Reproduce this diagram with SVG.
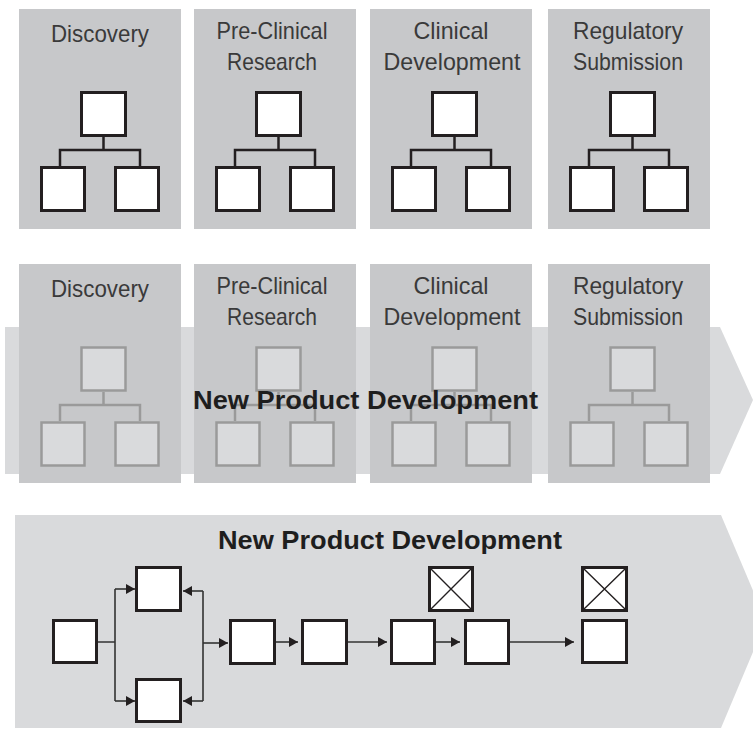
<svg xmlns="http://www.w3.org/2000/svg" width="753" height="729" viewBox="0 0 753 729">
<style>
.panel{fill:#c7c8ca}
.band{fill:#d9dadc}
.lbl{font-family:"Liberation Sans",Arial,sans-serif;font-size:24px;fill:#3a3a3a;text-anchor:middle}
.title{font-family:"Liberation Sans",Arial,sans-serif;font-size:25px;font-weight:bold;fill:#1e1e1e;text-anchor:middle}
.box{fill:#fff;stroke:#231f20;stroke-width:3}
.gbox{fill:#d9dadc;stroke:#9a9a9a;stroke-width:2.5}
.con{fill:none;stroke:#231f20;stroke-width:2.5}
.gcon{fill:none;stroke:#9a9a9a;stroke-width:2.5}
.arr{fill:none;stroke:#333;stroke-width:1.6}
.x{stroke:#231f20;stroke-width:1.4}
</style>
<defs>
<marker id="ah" markerUnits="userSpaceOnUse" markerWidth="9" markerHeight="10" refX="9" refY="5" orient="auto">
<path d="M0,0 L9,5 L0,10 z" fill="#231f20"/>
</marker>
</defs>

<!-- Row 1 -->
<g id="row1-discovery">
<rect class="panel" x="19" y="9" width="162" height="220"/>
<text class="lbl" x="100" y="42" textLength="98" lengthAdjust="spacingAndGlyphs">Discovery</text>
<rect class="box" x="81.5" y="92.5" width="44" height="43"/>
<rect class="box" x="41.5" y="167.5" width="43" height="43"/>
<rect class="box" x="115.5" y="167.5" width="43" height="43"/>
</g>
<g id="row1-preclinical">
<rect class="panel" x="194" y="9" width="162" height="220"/>
<text class="lbl" x="272" y="39" textLength="111" lengthAdjust="spacingAndGlyphs">Pre-Clinical</text>
<text class="lbl" x="272" y="70" textLength="90" lengthAdjust="spacingAndGlyphs">Research</text>
<rect class="box" x="256.5" y="92.5" width="44" height="43"/>
<rect class="box" x="216.5" y="167.5" width="43" height="43"/>
<rect class="box" x="290.5" y="167.5" width="43" height="43"/>
</g>
<g id="row1-clinical">
<rect class="panel" x="370" y="9" width="162" height="220"/>
<text class="lbl" x="451" y="39" textLength="75" lengthAdjust="spacingAndGlyphs">Clinical</text>
<text class="lbl" x="452" y="70" textLength="137" lengthAdjust="spacingAndGlyphs">Development</text>
<rect class="box" x="432.5" y="92.5" width="44" height="43"/>
<rect class="box" x="392.5" y="167.5" width="43" height="43"/>
<rect class="box" x="466.5" y="167.5" width="43" height="43"/>
</g>
<g id="row1-regulatory">
<rect class="panel" x="548" y="9" width="162" height="220"/>
<text class="lbl" x="628" y="39" textLength="110" lengthAdjust="spacingAndGlyphs">Regulatory</text>
<text class="lbl" x="628" y="70" textLength="110" lengthAdjust="spacingAndGlyphs">Submission</text>
<rect class="box" x="610.5" y="92.5" width="44" height="43"/>
<rect class="box" x="570.5" y="167.5" width="43" height="43"/>
<rect class="box" x="644.5" y="167.5" width="43" height="43"/>
</g>
<g id="row1-connectors">
<path class="con" d="M103.5,137 V150 M60,166 V150 H140 V166"/>
<path class="con" d="M278.5,137 V150 M235,166 V150 H315 V166"/>
<path class="con" d="M454.5,137 V150 M411,166 V150 H491 V166"/>
<path class="con" d="M632.5,137 V150 M589,166 V150 H669 V166"/>
</g>

<!-- Row 2 -->
<g id="row2-band">
<polygon class="band" points="5,327 720,327 753,400 720,474 5,474"/>
</g>
<g id="row2-discovery">
<rect class="panel" x="19" y="264" width="162" height="219"/>
<text class="lbl" x="100" y="297" textLength="98" lengthAdjust="spacingAndGlyphs">Discovery</text>
<rect class="gbox" x="81.5" y="347.5" width="44" height="43"/>
<rect class="gbox" x="41.5" y="422.5" width="43" height="43"/>
<rect class="gbox" x="115.5" y="422.5" width="43" height="43"/>
</g>
<g id="row2-preclinical">
<rect class="panel" x="194" y="264" width="162" height="219"/>
<text class="lbl" x="272" y="294" textLength="111" lengthAdjust="spacingAndGlyphs">Pre-Clinical</text>
<text class="lbl" x="272" y="325" textLength="90" lengthAdjust="spacingAndGlyphs">Research</text>
<rect class="gbox" x="256.5" y="347.5" width="44" height="43"/>
<rect class="gbox" x="216.5" y="422.5" width="43" height="43"/>
<rect class="gbox" x="290.5" y="422.5" width="43" height="43"/>
</g>
<g id="row2-clinical">
<rect class="panel" x="370" y="264" width="162" height="219"/>
<text class="lbl" x="451" y="294" textLength="75" lengthAdjust="spacingAndGlyphs">Clinical</text>
<text class="lbl" x="452" y="325" textLength="137" lengthAdjust="spacingAndGlyphs">Development</text>
<rect class="gbox" x="432.5" y="347.5" width="44" height="43"/>
<rect class="gbox" x="392.5" y="422.5" width="43" height="43"/>
<rect class="gbox" x="466.5" y="422.5" width="43" height="43"/>
</g>
<g id="row2-regulatory">
<rect class="panel" x="548" y="264" width="162" height="219"/>
<text class="lbl" x="628" y="294" textLength="110" lengthAdjust="spacingAndGlyphs">Regulatory</text>
<text class="lbl" x="628" y="325" textLength="110" lengthAdjust="spacingAndGlyphs">Submission</text>
<rect class="gbox" x="610.5" y="347.5" width="44" height="43"/>
<rect class="gbox" x="570.5" y="422.5" width="43" height="43"/>
<rect class="gbox" x="644.5" y="422.5" width="43" height="43"/>
</g>
<g id="row2-connectors">
<path class="gcon" d="M103.5,392 V405 M60,421 V405 H140 V421"/>
<path class="gcon" d="M278.5,392 V405 M235,421 V405 H315 V421"/>
<path class="gcon" d="M454.5,392 V405 M411,421 V405 H491 V421"/>
<path class="gcon" d="M632.5,392 V405 M589,421 V405 H669 V421"/>
</g>
<g id="row2-title">
<text class="title" x="365.5" y="409" textLength="345" lengthAdjust="spacingAndGlyphs">New Product Development</text>
</g>

<!-- Row 3 -->
<g id="row3-band">
<polygon class="band" points="15,515 721,515 766,621 721,728 15,728"/>
<text class="title" x="390" y="549" textLength="344" lengthAdjust="spacingAndGlyphs">New Product Development</text>
</g>
<g id="connectors">
<path class="arr" d="M98,642 H115 M115,589 V701 M203,591 V701"/>
<path class="arr" d="M115,589 H135" marker-end="url(#ah)"/>
<path class="arr" d="M115,701 H135" marker-end="url(#ah)"/>
<path class="arr" d="M203,591 H183" marker-end="url(#ah)"/>
<path class="arr" d="M203,701 H183" marker-end="url(#ah)"/>
<path class="arr" d="M203,643 H228" marker-end="url(#ah)"/>
<path class="arr" d="M276,642 H298" marker-end="url(#ah)"/>
<path class="arr" d="M348,642 H387" marker-end="url(#ah)"/>
<path class="arr" d="M436,642 H460" marker-end="url(#ah)"/>
<path class="arr" d="M510,642 H574" marker-end="url(#ah)"/>
</g>
<g id="node-a"><rect class="box" x="53.5" y="620.5" width="43" height="42"/></g>
<g id="node-b"><rect class="box" x="136.5" y="567.5" width="44" height="43"/></g>
<g id="node-c"><rect class="box" x="136.5" y="679.5" width="44" height="42"/></g>
<g id="node-d"><rect class="box" x="230.5" y="620.5" width="44" height="43"/></g>
<g id="node-e"><rect class="box" x="302.5" y="620.5" width="44" height="43"/></g>
<g id="node-f"><rect class="box" x="391.5" y="620.5" width="43" height="43"/></g>
<g id="node-fx"><rect class="box" x="429.5" y="567.5" width="43" height="43"/><path class="x" d="M431,569 L471,609 M471,569 L431,609"/></g>
<g id="node-g"><rect class="box" x="465.5" y="620.5" width="43" height="43"/></g>
<g id="node-hx"><rect class="box" x="582.5" y="567.5" width="44" height="43"/><path class="x" d="M584,569 L625,609 M625,569 L584,609"/></g>
<g id="node-h"><rect class="box" x="582.5" y="620.5" width="44" height="42"/></g>
</svg>
